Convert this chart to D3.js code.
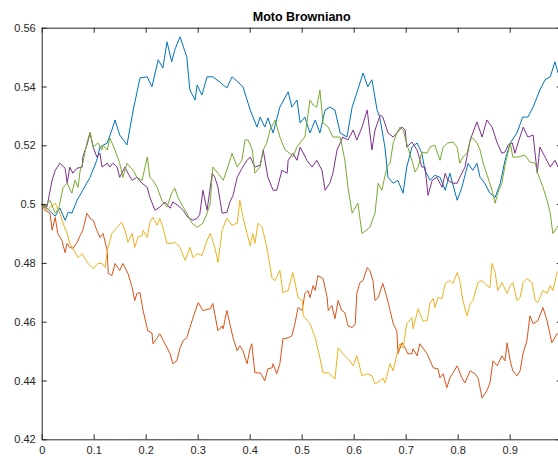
<!DOCTYPE html>
<html>
<head>
<meta charset="utf-8">
<script src="https://cdn.jsdelivr.net/npm/d3@7"></script>
<style>
  body { margin: 0; background: #fff; }
  svg { display: block; font-family: "Liberation Sans", Arial, Helvetica, sans-serif; }
  .axis line, .axis path { stroke: #262626; }
  .axis text { fill: #262626; font-size: 11px; }
  .walk { fill: none; stroke-width: 1; stroke-linejoin: round; }
</style>
</head>
<body>
<div id="chart"></div>
<script>
const title = "Moto Browniano";
// x = 1 is the right edge of the box, past the window
const xTicks = [0, 0.1, 0.2, 0.3, 0.4, 0.5, 0.6, 0.7, 0.8, 0.9];
const yTicks = [0.42, 0.44, 0.46, 0.48, 0.5, 0.52, 0.54, 0.56];

// [t, value], one array per walk
const blueWalk = [[0,0.500],[0.016,0.4976],[0.026,0.4959],[0.035,0.4986],[0.045,0.4945],[0.051,0.4973],[0.058,0.4969],[0.068,0.5013],[0.079,0.5047],[0.093,0.5091],[0.106,0.5149],[0.112,0.5194],[0.126,0.5208],[0.135,0.5252],[0.141,0.5286],[0.150,0.5235],[0.164,0.5201],[0.176,0.5320],[0.189,0.5429],[0.203,0.5433],[0.212,0.5399],[0.224,0.5491],[0.233,0.5463],[0.241,0.5552],[0.250,0.5484],[0.256,0.5525],[0.266,0.5569],[0.279,0.5501],[0.285,0.5388],[0.295,0.5354],[0.299,0.5405],[0.308,0.5371],[0.318,0.5433],[0.329,0.5433],[0.342,0.5416],[0.356,0.5395],[0.366,0.5433],[0.377,0.5416],[0.387,0.5399],[0.401,0.5320],[0.414,0.5262],[0.420,0.5296],[0.429,0.5262],[0.435,0.5293],[0.445,0.5242],[0.458,0.5330],[0.474,0.5382],[0.481,0.5330],[0.491,0.5354],[0.497,0.5276],[0.506,0.5296],[0.516,0.5242],[0.526,0.5286],[0.535,0.5242],[0.545,0.5320],[0.554,0.5330],[0.564,0.5320],[0.574,0.5242],[0.587,0.5228],[0.597,0.5330],[0.606,0.5378],[0.618,0.5446],[0.627,0.5399],[0.635,0.5423],[0.645,0.5320],[0.650,0.5296],[0.660,0.5194],[0.666,0.5091],[0.676,0.5071],[0.685,0.5081],[0.695,0.5037],[0.702,0.5126],[0.712,0.5194],[0.722,0.5208],[0.731,0.5173],[0.737,0.5115],[0.747,0.5081],[0.756,0.5098],[0.766,0.5091],[0.776,0.5047],[0.785,0.5105],[0.799,0.5013],[0.808,0.5057],[0.820,0.5139],[0.829,0.5115],[0.837,0.5139],[0.843,0.5091],[0.852,0.5071],[0.862,0.5037],[0.872,0.5023],[0.882,0.5071],[0.891,0.5149],[0.901,0.5208],[0.914,0.5242],[0.925,0.5296],[0.935,0.5296],[0.945,0.5330],[0.958,0.5388],[0.968,0.5423],[0.978,0.5433],[0.987,0.5484],[0.993,0.5446],[1,0.5440]];

const orangeWalk = [[0,0.500],[0.006,0.4979],[0.016,0.4969],[0.020,0.4911],[0.026,0.4955],[0.031,0.4900],[0.039,0.4876],[0.045,0.4835],[0.049,0.4866],[0.054,0.4853],[0.060,0.4849],[0.068,0.4870],[0.074,0.4893],[0.079,0.4911],[0.087,0.4969],[0.093,0.4952],[0.099,0.4945],[0.106,0.4911],[0.112,0.4887],[0.118,0.4900],[0.126,0.4842],[0.128,0.4764],[0.135,0.4757],[0.141,0.4798],[0.150,0.4774],[0.156,0.4798],[0.166,0.4764],[0.174,0.4716],[0.179,0.4672],[0.183,0.4696],[0.189,0.4699],[0.195,0.4638],[0.204,0.4569],[0.212,0.4562],[0.214,0.4525],[0.222,0.4545],[0.227,0.4559],[0.237,0.4525],[0.247,0.4491],[0.252,0.4457],[0.260,0.4467],[0.266,0.4511],[0.272,0.4535],[0.279,0.4545],[0.285,0.4580],[0.291,0.4614],[0.301,0.4665],[0.310,0.4638],[0.324,0.4644],[0.329,0.4662],[0.339,0.4569],[0.347,0.4586],[0.349,0.4576],[0.356,0.4638],[0.368,0.4545],[0.376,0.4501],[0.381,0.4518],[0.387,0.4501],[0.395,0.4457],[0.401,0.4511],[0.404,0.4525],[0.410,0.4426],[0.420,0.4426],[0.424,0.4416],[0.429,0.4399],[0.435,0.4440],[0.443,0.4443],[0.445,0.4457],[0.452,0.4423],[0.458,0.4457],[0.464,0.4542],[0.474,0.4545],[0.481,0.4552],[0.487,0.4593],[0.493,0.4648],[0.501,0.4638],[0.506,0.4696],[0.512,0.4706],[0.516,0.4682],[0.522,0.4723],[0.526,0.4706],[0.531,0.4757],[0.541,0.4747],[0.549,0.4682],[0.551,0.4638],[0.558,0.4655],[0.564,0.4610],[0.570,0.4672],[0.577,0.4638],[0.583,0.4631],[0.589,0.4586],[0.597,0.4580],[0.603,0.4593],[0.606,0.4696],[0.612,0.4733],[0.618,0.4740],[0.626,0.4784],[0.631,0.4774],[0.637,0.4740],[0.641,0.4672],[0.647,0.4682],[0.656,0.4730],[0.664,0.4682],[0.670,0.4638],[0.676,0.4593],[0.683,0.4569],[0.685,0.4491],[0.693,0.4528],[0.699,0.4511],[0.704,0.4491],[0.712,0.4491],[0.714,0.4508],[0.722,0.4484],[0.727,0.4525],[0.733,0.4511],[0.741,0.4491],[0.747,0.4467],[0.753,0.4443],[0.762,0.4440],[0.766,0.4409],[0.772,0.4423],[0.779,0.4375],[0.785,0.4409],[0.791,0.4426],[0.799,0.4450],[0.808,0.4409],[0.814,0.4392],[0.824,0.4433],[0.833,0.4423],[0.839,0.4409],[0.847,0.4341],[0.856,0.4365],[0.862,0.4392],[0.868,0.4467],[0.876,0.4450],[0.885,0.4484],[0.891,0.4467],[0.895,0.4528],[0.901,0.4467],[0.906,0.4433],[0.914,0.4416],[0.920,0.4433],[0.926,0.4494],[0.933,0.4535],[0.939,0.4620],[0.945,0.4593],[0.954,0.4603],[0.964,0.4648],[0.972,0.4603],[0.981,0.4528],[0.991,0.4559],[1,0.4550]];

const yellowWalk = [[0,0.500],[0.010,0.4979],[0.026,0.5003],[0.035,0.4969],[0.041,0.4935],[0.049,0.4900],[0.054,0.4866],[0.060,0.4849],[0.070,0.4818],[0.078,0.4832],[0.083,0.4815],[0.089,0.4798],[0.099,0.4781],[0.108,0.4798],[0.116,0.4798],[0.122,0.4784],[0.126,0.4842],[0.135,0.4900],[0.145,0.4921],[0.154,0.4938],[0.160,0.4911],[0.166,0.4870],[0.174,0.4900],[0.179,0.4853],[0.185,0.4887],[0.193,0.4893],[0.195,0.4911],[0.203,0.4887],[0.208,0.4938],[0.214,0.4955],[0.222,0.4928],[0.227,0.4952],[0.233,0.4921],[0.241,0.4866],[0.250,0.4866],[0.256,0.4870],[0.266,0.4853],[0.276,0.4808],[0.285,0.4853],[0.291,0.4818],[0.299,0.4832],[0.308,0.4825],[0.318,0.4876],[0.324,0.4900],[0.333,0.4853],[0.339,0.4801],[0.347,0.4911],[0.356,0.4952],[0.366,0.4928],[0.376,0.4935],[0.381,0.5013],[0.387,0.4955],[0.395,0.4900],[0.401,0.4859],[0.406,0.4900],[0.410,0.4866],[0.416,0.4935],[0.424,0.4921],[0.433,0.4853],[0.443,0.4747],[0.449,0.4740],[0.458,0.4774],[0.464,0.4699],[0.474,0.4706],[0.483,0.4767],[0.493,0.4682],[0.501,0.4672],[0.503,0.4620],[0.516,0.4593],[0.526,0.4545],[0.535,0.4477],[0.541,0.4426],[0.551,0.4426],[0.558,0.4416],[0.564,0.4405],[0.570,0.4511],[0.579,0.4491],[0.589,0.4474],[0.599,0.4450],[0.606,0.4484],[0.616,0.4416],[0.626,0.4423],[0.635,0.4416],[0.641,0.4388],[0.651,0.4399],[0.656,0.4409],[0.660,0.4392],[0.670,0.4457],[0.676,0.4433],[0.683,0.4491],[0.689,0.4525],[0.695,0.4511],[0.702,0.4593],[0.712,0.4614],[0.714,0.4576],[0.724,0.4644],[0.733,0.4603],[0.741,0.4603],[0.747,0.4665],[0.753,0.4679],[0.756,0.4648],[0.762,0.4682],[0.770,0.4679],[0.776,0.4730],[0.785,0.4740],[0.791,0.4730],[0.799,0.4767],[0.804,0.4740],[0.810,0.4672],[0.818,0.4620],[0.824,0.4661],[0.829,0.4672],[0.839,0.4733],[0.847,0.4740],[0.856,0.4723],[0.862,0.4716],[0.866,0.4798],[0.872,0.4767],[0.877,0.4706],[0.885,0.4733],[0.895,0.4696],[0.901,0.4723],[0.906,0.4733],[0.914,0.4672],[0.920,0.4682],[0.926,0.4733],[0.933,0.4747],[0.943,0.4733],[0.949,0.4672],[0.954,0.4665],[0.964,0.4706],[0.972,0.4696],[0.978,0.4723],[0.983,0.4706],[0.991,0.4767],[1,0.4780]];

const purpleWalk = [[0,0.500],[0.010,0.4990],[0.020,0.5081],[0.026,0.5115],[0.035,0.5139],[0.045,0.5122],[0.049,0.5071],[0.054,0.5126],[0.060,0.5105],[0.068,0.5122],[0.078,0.5126],[0.079,0.5160],[0.087,0.5201],[0.093,0.5242],[0.099,0.5194],[0.106,0.5160],[0.112,0.5173],[0.116,0.5126],[0.126,0.5139],[0.131,0.5126],[0.137,0.5139],[0.145,0.5126],[0.150,0.5091],[0.160,0.5126],[0.166,0.5105],[0.174,0.5081],[0.183,0.5091],[0.193,0.5071],[0.203,0.5057],[0.208,0.5023],[0.218,0.4979],[0.227,0.4990],[0.237,0.5007],[0.247,0.4986],[0.252,0.5007],[0.262,0.4996],[0.272,0.4979],[0.281,0.4955],[0.291,0.4945],[0.299,0.4952],[0.304,0.4965],[0.310,0.5047],[0.318,0.4979],[0.328,0.5105],[0.333,0.5091],[0.339,0.5057],[0.347,0.4969],[0.356,0.4972],[0.362,0.5007],[0.368,0.5030],[0.376,0.5091],[0.385,0.5122],[0.395,0.5149],[0.401,0.5160],[0.410,0.5126],[0.420,0.5132],[0.426,0.5184],[0.435,0.5091],[0.445,0.5047],[0.452,0.5047],[0.462,0.5115],[0.472,0.5105],[0.474,0.5149],[0.483,0.5173],[0.491,0.5149],[0.497,0.5194],[0.510,0.5149],[0.520,0.5126],[0.529,0.5149],[0.539,0.5115],[0.545,0.5047],[0.554,0.5071],[0.560,0.5105],[0.568,0.5184],[0.574,0.5208],[0.579,0.5228],[0.589,0.5218],[0.599,0.5252],[0.606,0.5218],[0.616,0.5262],[0.626,0.5320],[0.635,0.5184],[0.641,0.5252],[0.651,0.5303],[0.656,0.5296],[0.666,0.5242],[0.676,0.5228],[0.683,0.5242],[0.693,0.5262],[0.699,0.5252],[0.702,0.5194],[0.712,0.5211],[0.722,0.5184],[0.731,0.5126],[0.737,0.5126],[0.743,0.5030],[0.751,0.5081],[0.760,0.5091],[0.770,0.5057],[0.776,0.5105],[0.781,0.5081],[0.791,0.5071],[0.799,0.5071],[0.804,0.5091],[0.814,0.5126],[0.824,0.5218],[0.837,0.5279],[0.847,0.5228],[0.856,0.5286],[0.866,0.5262],[0.876,0.5208],[0.885,0.5173],[0.891,0.5177],[0.897,0.5201],[0.905,0.5208],[0.910,0.5173],[0.916,0.5208],[0.926,0.5262],[0.935,0.5228],[0.945,0.5235],[0.953,0.5105],[0.958,0.5194],[0.968,0.5160],[0.978,0.5126],[0.987,0.5149],[0.993,0.5126],[1,0.5140]];

const greenWalk = [[0,0.500],[0.006,0.4990],[0.016,0.5013],[0.026,0.4969],[0.033,0.4986],[0.041,0.5057],[0.049,0.5071],[0.058,0.5037],[0.064,0.5081],[0.070,0.5057],[0.074,0.5115],[0.079,0.5139],[0.087,0.5208],[0.093,0.5245],[0.099,0.5194],[0.108,0.5208],[0.116,0.5184],[0.118,0.5201],[0.126,0.5184],[0.131,0.5225],[0.141,0.5184],[0.150,0.5139],[0.156,0.5091],[0.164,0.5139],[0.170,0.5126],[0.176,0.5115],[0.183,0.5091],[0.193,0.5081],[0.203,0.5160],[0.208,0.5091],[0.214,0.5081],[0.222,0.5057],[0.231,0.5013],[0.241,0.4990],[0.250,0.5037],[0.256,0.5054],[0.262,0.5023],[0.272,0.4990],[0.279,0.4969],[0.289,0.4935],[0.299,0.4921],[0.310,0.4935],[0.318,0.4969],[0.324,0.5003],[0.329,0.5126],[0.339,0.5105],[0.349,0.5081],[0.358,0.5126],[0.366,0.5173],[0.376,0.5126],[0.385,0.5149],[0.391,0.5218],[0.397,0.5218],[0.405,0.5184],[0.410,0.5105],[0.420,0.5126],[0.426,0.5184],[0.433,0.5208],[0.439,0.5252],[0.449,0.5286],[0.458,0.5228],[0.468,0.5184],[0.477,0.5173],[0.483,0.5160],[0.491,0.5194],[0.501,0.5218],[0.506,0.5228],[0.516,0.5354],[0.522,0.5337],[0.529,0.5330],[0.535,0.5388],[0.541,0.5276],[0.551,0.5262],[0.560,0.5228],[0.574,0.5228],[0.583,0.5149],[0.589,0.5057],[0.597,0.4969],[0.608,0.5003],[0.616,0.4900],[0.631,0.4921],[0.641,0.4969],[0.647,0.5071],[0.654,0.5047],[0.664,0.5126],[0.670,0.5139],[0.676,0.5208],[0.683,0.5242],[0.689,0.5262],[0.695,0.5252],[0.704,0.5194],[0.712,0.5149],[0.718,0.5109],[0.724,0.5126],[0.731,0.5177],[0.741,0.5173],[0.747,0.5194],[0.756,0.5201],[0.766,0.5149],[0.772,0.5194],[0.781,0.5208],[0.791,0.5211],[0.799,0.5194],[0.804,0.5139],[0.810,0.5160],[0.818,0.5173],[0.824,0.5218],[0.829,0.5225],[0.837,0.5208],[0.843,0.5184],[0.849,0.5139],[0.858,0.5091],[0.866,0.5047],[0.872,0.5003],[0.877,0.5037],[0.885,0.5071],[0.891,0.5132],[0.901,0.5208],[0.906,0.5160],[0.916,0.5160],[0.929,0.5167],[0.939,0.5143],[0.949,0.5139],[0.954,0.5105],[0.964,0.5057],[0.972,0.5013],[0.978,0.4969],[0.983,0.4900],[0.991,0.4921],[1,0.4940]];

const walks = [
  {name: "blue", color: "#0072BD", data: blueWalk},
  {name: "orange", color: "#D95319", data: orangeWalk},
  {name: "yellow", color: "#EDB120", data: yellowWalk},
  {name: "purple", color: "#7E2F8E", data: purpleWalk},
  {name: "green", color: "#77AC30", data: greenWalk}
];

const width = 558;
const height = 456;
const margin = {top: 27.7, left: 41.7, plotWidth: 520, bottom: 439.3};
const tickSize = 5;

const svg = d3.select("#chart")
  .append("svg")
  .attr("width", width)
  .attr("height", height);

const x = d3.scaleLinear().domain([0, 1]).range([margin.left, margin.left + margin.plotWidth]);
const y = d3.scaleLinear().domain([0.42, 0.56]).range([margin.bottom, margin.top]);

const line = d3.line()
  .x(d => x(d[0]))
  .y(d => y(d[1]));

svg.append("g").attr("class", "walks")
  .selectAll("path").data(walks).enter()
  .append("path")
  .attr("class", "walk")
  .attr("stroke", d => d.color)
  .attr("d", d => line(d.data));

// box with inward ticks, like MATLAB
const fmt = d3.format("~g");

svg.append("g").attr("class", "axis")
  .attr("transform", `translate(0,${margin.bottom})`)
  .call(d3.axisBottom(x).tickValues(xTicks).tickFormat(fmt).tickSizeInner(-tickSize).tickSizeOuter(0).tickPadding(6.5))
  .call(g => g.selectAll("text").attr("dy", "0.71em"));

svg.append("g").attr("class", "axis")
  .attr("transform", `translate(0,${margin.top})`)
  .call(d3.axisTop(x).tickValues(xTicks).tickFormat("").tickSizeInner(-tickSize).tickSizeOuter(0));

svg.append("g").attr("class", "axis")
  .attr("transform", `translate(${margin.left},0)`)
  .call(d3.axisLeft(y).tickValues(yTicks).tickFormat(fmt).tickSizeInner(-tickSize).tickSizeOuter(0).tickPadding(6));

svg.append("g").attr("class", "axis")
  .attr("transform", `translate(${margin.left + margin.plotWidth},0)`)
  .call(d3.axisRight(y).tickValues(yTicks).tickFormat("").tickSizeInner(-tickSize).tickSizeOuter(0));

svg.selectAll(".axis text").attr("font-family", null).attr("font-size", null);

svg.append("text")
  .attr("x", margin.left + margin.plotWidth / 2)
  .attr("y", 20.7)
  .attr("text-anchor", "middle")
  .attr("font-weight", "bold")
  .attr("font-size", 12.5)
  .attr("fill", "#000")
  .text(title);
</script>
</body>
</html>
